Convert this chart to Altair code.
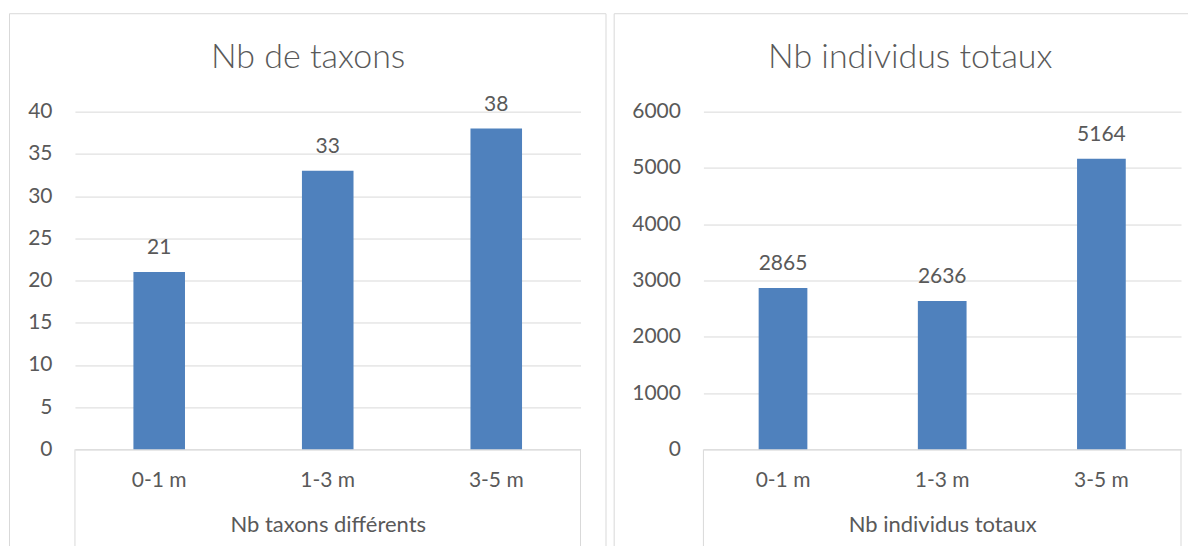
import altair as alt
import pandas as pd

categories = ["0-1 m", "1-3 m", "3-5 m"]
taxons = [21, 33, 38]
individus = [2865, 2636, 5164]
chart_titles = ["Nb de taxons", "Nb individus totaux"]
axis_titles = ["Nb taxons différents", "Nb individus totaux"]
ticks_left = [0, 5, 10, 15, 20, 25, 30, 35, 40]
ticks_right = [0, 1000, 2000, 3000, 4000, 5000, 6000]

BLUE = "#4F81BD"
TXT = "#595959"
GRID = "#D9D9D9"
FONT = "Lato"
H = 338
BOTTOM = 460
TOP = -98


def panel(values, title, xtitle, ymax, ticks, W, bx1, bx2, tx, right_edge):
    df = pd.DataFrame({"cat": categories, "val": values})
    one = pd.DataFrame({"t": [title]})
    x = alt.X(
        "cat:N", sort=categories, title=xtitle,
        scale=alt.Scale(paddingInner=0.694, paddingOuter=0.347),
        axis=alt.Axis(labelAngle=0, ticks=False, domainColor=GRID,
                      labelPadding=20, titlePadding=24, labelFontSize=21,
                      titleFontSize=22, labelColor=TXT, titleColor=TXT,
                      titleFontWeight="normal"),
    )
    y = alt.Y(
        "val:Q", title=None,
        scale=alt.Scale(domain=[0, ymax], nice=False),
        axis=alt.Axis(values=ticks, format="d", domain=False, ticks=False,
                      grid=True, gridColor=GRID, labelPadding=23,
                      labelFontSize=21, labelColor=TXT),
    )
    layers = []
    layers.append(alt.Chart(one).mark_rule(color=GRID).encode(
        x=alt.value(bx1), x2=alt.value(bx2), y=alt.value(TOP)))
    layers.append(alt.Chart(one).mark_rule(color=GRID).encode(
        x=alt.value(bx1), y=alt.value(TOP), y2=alt.value(BOTTOM)))
    if right_edge:
        layers.append(alt.Chart(one).mark_rule(color=GRID).encode(
            x=alt.value(bx2), y=alt.value(TOP), y2=alt.value(BOTTOM)))
    layers.append(alt.Chart(one).mark_rule(color=GRID).encode(
        x=alt.value(0), y=alt.value(H), y2=alt.value(BOTTOM)))
    layers.append(alt.Chart(one).mark_rule(color=GRID).encode(
        x=alt.value(W), y=alt.value(H), y2=alt.value(BOTTOM)))
    base = alt.Chart(df).encode(x=x, y=y)
    layers.append(base.mark_bar(color=BLUE))
    layers.append(base.mark_text(dy=-18, baseline="alphabetic", fontSize=21, color=TXT).encode(
        text=alt.Text("val:Q", format="d")))
    layers.append(alt.Chart(one).mark_text(fontSize=34, fontWeight=300, color=TXT,
                                           align="center", baseline="middle").encode(
        text="t:N", x=alt.value(tx), y=alt.value(-54)))
    return alt.layer(*layers).properties(width=W, height=H)


p1 = panel(taxons, chart_titles[0], axis_titles[0], 40, ticks_left, 506, -65.5, 531.5, 233.4, True)
p2 = panel(individus, chart_titles[1], axis_titles[1], 6000, ticks_right, 478, -89.3, 485, 207, False)

chart = alt.hconcat(p1, p2, spacing=7).properties(
    padding={"left": 1, "top": 4.5, "right": 0, "bottom": 0}
).configure(font=FONT).configure_view(strokeWidth=0)

chart.save("out.html", embed_options={"renderer": "svg", "actions": False})
